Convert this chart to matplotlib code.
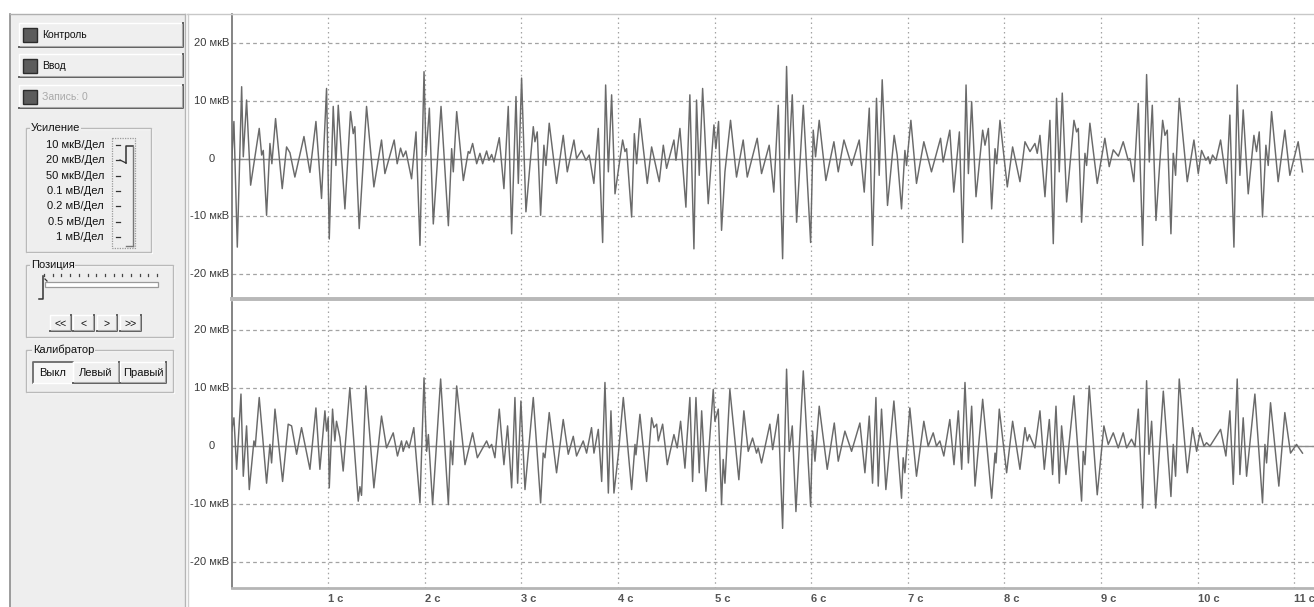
import matplotlib
matplotlib.use("Agg")
import matplotlib.pyplot as plt
from matplotlib.patches import Rectangle

# ---------------- data ----------------
top_t = [0.000, 0.024, 0.059, 0.104, 0.121, 0.155, 0.197, 0.286, 0.311, 0.328, 0.362, 0.397, 0.417, 0.455,
         0.524, 0.569, 0.604, 0.655, 0.749, 0.811, 0.873, 0.931, 0.983, 1.011, 1.052, 1.080, 1.104, 1.173,
         1.231, 1.259, 1.276, 1.321, 1.397, 1.473, 1.552, 1.587, 1.683, 1.714, 1.749, 1.776, 1.804, 1.863,
         1.909, 1.950, 1.992, 2.013, 2.047, 2.088, 2.168, 2.244, 2.278, 2.295, 2.330, 2.399, 2.450, 2.466,
         2.495, 2.537, 2.571, 2.599, 2.640, 2.664, 2.692, 2.716, 2.771, 2.819, 2.864, 2.899, 2.944, 2.968,
         3.002, 3.047, 3.123, 3.140, 3.164, 3.199, 3.233, 3.254, 3.288, 3.364, 3.433, 3.475, 3.544, 3.571,
         3.623, 3.668, 3.702, 3.750, 3.796, 3.841, 3.872, 3.900, 3.934, 3.969, 4.048, 4.072, 4.089, 4.141,
         4.169, 4.193, 4.227, 4.303, 4.348, 4.427, 4.469, 4.503, 4.579, 4.600, 4.641, 4.703, 4.744, 4.786,
         4.813, 4.841, 4.876, 4.934, 4.993, 5.013, 5.041, 5.072, 5.107, 5.165, 5.227, 5.296, 5.338, 5.441,
         5.486, 5.565, 5.613, 5.659, 5.704, 5.745, 5.770, 5.804, 5.849, 5.918, 5.994, 6.021, 6.045, 6.083,
         6.152, 6.235, 6.280, 6.339, 6.418, 6.497, 6.549, 6.601, 6.635, 6.676, 6.704, 6.735, 6.790, 6.859,
         6.890, 6.935, 6.970, 6.987, 7.032, 7.090, 7.166, 7.245, 7.339, 7.366, 7.435, 7.476, 7.534, 7.568,
         7.603, 7.627, 7.661, 7.706, 7.775, 7.799, 7.834, 7.868, 7.903, 7.920, 7.954, 8.030, 8.085, 8.161,
         8.213, 8.265, 8.316, 8.340, 8.368, 8.420, 8.471, 8.506, 8.540, 8.568, 8.599, 8.644, 8.720, 8.747,
         8.765, 8.799, 8.834, 8.851, 8.885, 8.961, 9.040, 9.085, 9.127, 9.180, 9.230, 9.282, 9.300, 9.340,
         9.386, 9.431, 9.472, 9.500, 9.531, 9.569, 9.638, 9.662, 9.686, 9.724, 9.748, 9.772, 9.810, 9.893,
         9.962, 10.007, 10.041, 10.086, 10.110, 10.128, 10.155, 10.190, 10.238, 10.300, 10.334, 10.376,
         10.410, 10.438, 10.472, 10.524, 10.583, 10.610, 10.638, 10.672, 10.707, 10.731, 10.766, 10.834,
         10.903, 10.955, 11.041, 11.086]
top_uv = [-0.6, 6.4, -15.3, 12.4, 0.3, 10.1, -4.6, 5.2, 0.6, 1.4, -9.8, 2.6, -0.9, 6.9,
          -5.2, 2.0, 1.0, -3.2, 3.8, -2.4, 6.4, -6.9, 12.1, -13.9, 9.0, -1.2, 9.2, -8.7,
          8.1, 4.3, 5.5, -12.1, 9.0, -4.9, 3.2, -2.6, 3.2, -0.9, 1.8, 0.3, 1.3, -3.5,
          4.6, -15.0, 15.0, 0.6, 8.7, -11.3, 9.0, -11.6, 1.7, -2.3, 8.1, -3.8, 1.2, 0.9,
          2.6, -0.9, 0.9, -0.9, 1.3, -0.3, 0.7, -0.6, 3.6, -5.2, 9.0, -13.0, 10.7, -4.3,
          13.9, -9.2, 5.5, 2.9, 4.6, -9.8, 2.3, -1.2, 6.1, -4.3, 4.0, -2.3, 3.2, 0.0,
          1.4, -0.3, 0.6, -4.3, 5.2, -14.5, 12.7, -2.3, 11.0, -6.1, 3.2, 1.2, 1.7, -10.1,
          4.3, -0.9, 6.9, -4.3, 2.0, -4.0, 2.3, -1.7, 3.2, -0.3, 5.2, -8.4, 11.0, -15.6,
          10.1, -2.9, 12.1, -7.8, 5.8, 1.7, 6.4, -12.4, -2.3, 6.6, -3.2, 3.2, -3.2, 3.5,
          -2.6, 2.3, -5.8, 9.2, -17.3, 15.9, 0.0, 11.0, -11.0, 9.2, -14.5, 4.9, 0.3, 6.6,
          -3.8, 2.9, -2.3, 3.2, -1.2, 3.2, -5.8, 8.7, -15.0, 10.4, -2.9, 13.6, -8.1, 4.0,
          0.6, -8.7, 1.4, -1.2, 6.6, -4.3, 2.9, -2.3, 3.5, -0.6, 4.9, -5.8, 4.6, -14.5,
          12.7, -2.6, 9.8, -6.6, 4.9, 2.3, 5.2, -8.7, 1.7, -0.9, 6.6, -4.9, 2.0, -4.0,
          2.9, 1.2, 2.6, 0.9, 4.0, -6.6, 6.6, -14.7, 10.4, -2.3, 11.3, -7.5, 6.6, 4.6,
          5.2, -11.0, 0.9, -1.2, 6.1, -4.3, 3.5, -1.4, 1.5, 0.4, 2.9, -0.3, 0.0, -4.0,
          9.5, -15.0, 14.5, -0.6, 9.2, -10.7, 6.6, 4.0, 4.9, -13.0, 0.9, -2.9, 10.4, -4.0,
          3.2, -2.6, 1.4, -0.3, 0.3, -0.9, 0.6, -0.3, 3.2, -4.3, 7.5, -15.3,
          12.7, -2.9, 8.4, -6.1, 4.0, 1.2, 4.6, -10.1, 2.3, -1.2, 8.1, -4.0,
          4.9, -2.9, 2.9, -2.3]

bot_t = [0.000, 0.024, 0.052, 0.097, 0.121, 0.155, 0.183, 0.231, 0.245, 0.286, 0.321, 0.362, 0.397, 0.414,
         0.449, 0.528, 0.586, 0.621, 0.673, 0.724, 0.811, 0.873, 0.914, 0.966, 0.983, 1.000, 1.011, 1.045,
         1.069, 1.086, 1.121, 1.155, 1.224, 1.311, 1.328, 1.345, 1.390, 1.473, 1.552, 1.604, 1.673, 1.717,
         1.759, 1.776, 1.811, 1.838, 1.886, 1.950, 1.992, 2.019, 2.037, 2.081, 2.164, 2.244, 2.268, 2.288,
         2.330, 2.416, 2.495, 2.544, 2.640, 2.668, 2.692, 2.726, 2.771, 2.819, 2.857, 2.899, 2.933, 2.961,
         2.995, 3.037, 3.123, 3.199, 3.226, 3.244, 3.288, 3.364, 3.433, 3.485, 3.537, 3.571, 3.640, 3.675,
         3.726, 3.751, 3.796, 3.831, 3.865, 3.900, 3.927, 3.958, 4.003, 4.055, 4.141, 4.176, 4.186, 4.227,
         4.296, 4.348, 4.372, 4.400, 4.417, 4.462, 4.510, 4.579, 4.613, 4.648, 4.693, 4.744, 4.772, 4.807,
         4.841, 4.866, 4.910, 4.986, 5.003, 5.038, 5.072, 5.089, 5.107, 5.158, 5.251, 5.303, 5.348, 5.393,
         5.434, 5.451, 5.486, 5.572, 5.601, 5.659, 5.704, 5.745, 5.773, 5.804, 5.842, 5.918, 5.994, 6.014,
         6.039, 6.083, 6.166, 6.239, 6.280, 6.349, 6.418, 6.504, 6.556, 6.601, 6.635, 6.670, 6.694, 6.728,
         6.773, 6.856, 6.935, 6.952, 6.970, 7.021, 7.090, 7.166, 7.211, 7.263, 7.297, 7.332, 7.373, 7.435,
         7.478, 7.523, 7.558, 7.592, 7.627, 7.661, 7.696, 7.775, 7.868, 7.903, 7.913, 7.947, 8.023, 8.085,
         8.161, 8.213, 8.237, 8.258, 8.316, 8.368, 8.413, 8.465, 8.499, 8.534, 8.568, 8.592, 8.637, 8.720,
         8.799, 8.816, 8.834, 8.878, 8.961, 9.030, 9.075, 9.127, 9.178, 9.230, 9.265, 9.316, 9.352, 9.386,
         9.431, 9.472, 9.497, 9.524, 9.566, 9.645, 9.724, 9.748, 9.772, 9.810, 9.893, 9.948, 9.990, 10.024,
         10.066, 10.093, 10.128, 10.238, 10.293, 10.334, 10.369, 10.410, 10.438, 10.472, 10.507, 10.593,
         10.672, 10.697, 10.714, 10.755, 10.841, 10.903, 10.962, 11.024, 11.086]
bot_uv = [2.6, 4.9, -4.0, 9.0, -5.2, 3.5, -7.5, 0.9, 0.0, 8.4, 1.7, -6.4, 0.3, -2.9,
          6.4, -6.1, 3.8, 3.5, -1.4, 3.2, -4.0, 6.6, -4.0, 6.1, 2.6, 4.9, -7.2, 6.4,
          0.9, 4.3, 1.5, -4.3, 10.1, -9.5, -7.0, -8.5, 10.4, -7.2, 5.2, -0.3, 2.3, -1.7,
          0.9, -0.9, 0.9, -0.3, 3.2, -9.8, 11.8, -0.9, 2.0, -10.1, 11.6, -10.1, 0.9, -3.2,
          10.4, -3.2, 2.3, -2.0, 0.9, -0.3, 0.3, -2.0, 6.4, -3.2, 3.5, -7.2, 8.4, -6.4,
          7.8, -7.5, 8.4, -9.8, -1.2, -2.0, 5.8, -4.6, 4.6, -1.4, 1.7, -1.7, 0.9, -1.2,
          3.2, -1.2, 2.9, -6.1, 11.0, -8.1, 6.1, -8.1, -1.5, 8.4, -7.5, 0.3, -1.5, 5.5,
          -6.1, 4.9, 3.2, 3.8, 0.9, 3.8, -3.2, 2.0, -0.3, 4.3, -3.8, 8.4, -6.1, 8.4,
          -4.6, 6.1, -7.8, 9.8, 4.3, 6.4, -10.1, -2.3, -6.4, 9.8, -5.8, 6.1, -0.9, 1.4,
          -1.2, -0.3, -2.9, 3.8, -0.6, 5.5, -14.2, 13.3, -0.9, 3.5, -11.3, 13.0, -10.4, 2.6,
          -2.6, 6.9, -4.0, 4.0, -2.6, 2.6, -0.9, 4.0, -4.6, 5.2, -6.4, 8.4, -6.9, 6.4,
          -7.5, 7.8, -9.0, -2.0, -4.6, 6.6, -5.2, 4.3, 0.0, 2.3, 0.0, 0.9, -1.7, 4.6,
          -3.2, 6.1, -4.0, 11.0, -2.9, 6.9, -6.9, 8.1, -9.0, -1.2, -2.9, 6.4, -4.6, 4.3,
          -4.0, 3.2, 0.9, 2.0, -0.3, 6.1, -4.0, 4.6, -4.9, 6.9, -6.4, 3.5, -4.9, 8.7,
          -9.5, -0.9, -3.2, 10.4, -8.4, 3.5, 0.3, 2.3, -0.3, 2.3, -0.3, 1.2, -0.1, 6.4,
          -10.7, 11.3, -1.4, 4.3, -10.7, 9.5, -8.7, 0.3, -5.2, 11.6, -4.6, 3.2, -0.9, 2.3,
          0.0, 0.6, 0.0, 2.9, -1.7, 6.1, -6.6, 11.6, -4.9, 4.9, -5.2, 9.0,
          -9.8, 0.3, -2.9, 7.5, -6.9, 5.8, -1.2, 0.3, -1.2]

seconds = [1, 2, 3, 4, 5, 6, 7, 8, 9, 10, 11]
second_labels = ["1 с", "2 с", "3 с", "4 с", "5 с", "6 с", "7 с", "8 с", "9 с", "10 с", "11 с"]
uv_ticks = [-20, -10, 0, 10, 20]
uv_labels = ["-20 мкВ", "-10 мкВ", "0", "10 мкВ", "20 мкВ"]
gain_labels = ["10 мкВ/Дел", "20 мкВ/Дел", "50 мкВ/Дел", "0.1 мВ/Дел",
               "0.2 мВ/Дел", "0.5 мВ/Дел", "1 мВ/Дел"]
calib_labels = ["Выкл", "Левый", "Правый"]
nav_labels = ["<<", "<", ">", ">>"]

# ---------------- figure ----------------
W, H = 1314, 607
fig = plt.figure(figsize=(W / 100, H / 100), dpi=100, facecolor="white")
FONT = "Liberation Sans"

def fx(px):
    return px / W

def fy(py):
    return 1 - py / H

trace_col = "#6a6a6a"
grid_col = "#a3a3a3"

def make_trace_axes(y_top, y_bot, t, v, ylim, show_x):
    ax = fig.add_axes([fx(231.6), fy(y_bot), fx(W - 231.6), (y_bot - y_top) / H])
    ax.set_facecolor("white")
    ax.set_xlim(0, (W - 231.6) / 96.6)
    ax.set_ylim(*ylim)
    ax.set_xticks(seconds)
    ax.set_yticks(uv_ticks)
    ax.xaxis.grid(True, color=grid_col, lw=0.9, ls=(0, (1.2, 2.6)))
    ax.yaxis.grid(True, color=grid_col, lw=0.9, ls=(0, (3.0, 2.5)))
    ax.set_axisbelow(True)
    ax.axhline(0, color="#8c8c8c", lw=1.0, zorder=1.5)
    ax.plot(t, v, color=trace_col, lw=1.05, zorder=3)
    ax.tick_params(length=0)
    ax.set_yticklabels([])
    if show_x:
        ax.set_xticklabels(second_labels, fontsize=8, fontweight="bold",
                           color="#555555", family=FONT)
        for lab in ax.get_xticklabels():
            lab.set_horizontalalignment("left")
        ax.tick_params(axis="x", pad=4)
    else:
        ax.set_xticklabels([])
    for val, lab in zip(uv_ticks, uv_labels):
        if val == 0:
            ax.annotate(lab, xy=(0, val), xycoords=("axes fraction", "data"),
                        xytext=(-20, 0), textcoords="offset pixels",
                        ha="center", va="center", fontsize=8, color="#3a3a3a",
                        family=FONT, annotation_clip=False)
        else:
            ax.annotate(lab, xy=(0, val), xycoords=("axes fraction", "data"),
                        xytext=(-2, 0), textcoords="offset pixels",
                        ha="right", va="center", fontsize=8, color="#3a3a3a",
                        family=FONT, annotation_clip=False)
    ax.spines["right"].set_visible(False)
    ax.spines["left"].set_color("#707070")
    ax.spines["left"].set_linewidth(1.2)
    return ax

ax1 = make_trace_axes(14, 299, top_t, top_uv, (-24.26, 24.96), False)
ax1.spines["top"].set_color("#c8c8c8")
ax1.spines["top"].set_linewidth(1.0)
ax1.spines["bottom"].set_color("#b8b8b8")
ax1.spines["bottom"].set_linewidth(2.8)

ax2 = make_trace_axes(302, 588, bot_t, bot_uv, (-24.5, 24.9), True)
ax2.spines["top"].set_visible(False)
ax2.spines["bottom"].set_color("#b5b5b5")
ax2.spines["bottom"].set_linewidth(2.0)

# ---------------- left control panel (pixel overlay) ----------------
ui = fig.add_axes([0, 0, 1, 1], zorder=5)
ui.set_xlim(0, W)
ui.set_ylim(H, 0)
ui.axis("off")
ui.patch.set_alpha(0)

panel_bg = "#eeeeee"
ui.add_patch(Rectangle((10, 14), 175, H - 14, fc=panel_bg, ec="none"))
ui.plot([10, 10], [14, H], color="#8c8c8c", lw=1.2)
ui.plot([10, 185], [14, 14], color="#b0b0b0", lw=1.0)
ui.plot([185, 185], [14, H], color="#b5b5b5", lw=1.0)
ui.plot([187.5, 187.5], [14, H], color="#cfcfcf", lw=1.0)
ui.plot([187, 232], [14, 14], color="#c8c8c8", lw=1.0)

def button(x0, y0, x1, y1, text=None, fs=7, color="#111111", pressed=False,
           ha="center", tx=None):
    ui.add_patch(Rectangle((x0, y0), x1 - x0, y1 - y0,
                           fc="#f6f6f6" if pressed else "#efefef", ec="none"))
    if pressed:
        ui.plot([x0, x0, x1], [y1, y0, y0], color="#6a6a6a", lw=1.3)
        ui.plot([x0, x1, x1], [y1, y1, y0], color="#ffffff", lw=1.0)
    else:
        ui.plot([x0, x0, x1], [y1, y0, y0], color="#ffffff", lw=1.0)
        ui.plot([x0, x1, x1], [y1, y1, y0], color="#5e5e5e", lw=1.4)
        ui.plot([x0 + 1, x1 - 1, x1 - 1], [y1 - 1, y1 - 1, y0 + 1], color="#a8a8a8", lw=0.8)
    if text is not None:
        xx = (x0 + x1) / 2 if tx is None else tx
        ui.text(xx, (y0 + y1) / 2 + 0.5, text, ha=ha, va="center", fontsize=fs,
                color=color, family=FONT)

def led_button(y0, y1, text, color):
    button(19, y0, 183, y1, text, fs=7.5, color=color, ha="left", tx=42)
    ui.add_patch(Rectangle((23, (y0 + y1) / 2 - 7), 14, 14, fc="#5c5c5c", ec="#2c2c2c", lw=1.0))

led_button(23, 47, "Контроль", "#111111")
led_button(54, 77, "Ввод", "#111111")
led_button(85, 108, "Запись: 0", "#a9a9a9")

def group(x0, y0, x1, y1, title, tx):
    ui.add_patch(Rectangle((x0 + 1, y0 + 1), x1 - x0, y1 - y0, fc="none", ec="#ffffff", lw=0.9))
    ui.add_patch(Rectangle((x0, y0), x1 - x0, y1 - y0, fc="none", ec="#b9b9b9", lw=1.0))
    ui.text(tx, y0, title, ha="left", va="center", fontsize=8, color="#111111",
            family=FONT, bbox=dict(boxstyle="square,pad=0.05", fc=panel_bg, ec="none"))

# Усиление
group(26, 128, 151, 252, "Усиление", 31)
gain_y0, gain_dy = 145, 15.35
for i, lab in enumerate(gain_labels):
    yy = gain_y0 + i * gain_dy
    ui.text(104, yy, lab, ha="right", va="center", fontsize=8, color="#111111", family=FONT)
    ui.plot([116, 120], [yy, yy], color="#333333", lw=0.9)
ui.add_patch(Rectangle((112, 138), 23, 110, fc="none", ec="#9a9a9a", lw=0.9, ls=(0, (1, 1))))
ui.plot([133, 133], [147, 246], color="#777777", lw=1.0)
ui.plot([126, 133], [246, 246], color="#777777", lw=1.0)
ui.plot([126, 126, 133], [163, 146, 146], color="#333333", lw=1.1)
ui.plot([120, 124, 126], [160, 162, 163], color="#333333", lw=0.9)

# Позиция
group(26, 265, 173, 337, "Позиция", 31)
for k in range(14):
    xx = 44 + k * 8.7
    ui.plot([xx, xx], [274, 276], color="#444444", lw=0.9)
ui.add_patch(Rectangle((45, 282), 113, 5, fc="#ffffff", ec="#9a9a9a", lw=0.9))
ui.plot([43, 43, 39], [276, 299, 299], color="#333333", lw=1.1)
ui.plot([45, 47], [279, 281], color="#333333", lw=0.9)

nav_x = [(50, 71), (73, 94), (97, 117), (120, 141)]
for (a, b), lab in zip(nav_x, nav_labels):
    button(a, 315, b, 331, lab, fs=7.5)

# Калибратор
group(26, 350, 173, 392, "Калибратор", 33)
calib_x = [(33, 73), (73, 119), (120, 166)]
for (a, b), lab in zip(calib_x, calib_labels):
    button(a, 362, b, 383, lab, fs=8, pressed=(lab == "Выкл"))

fig.savefig("out.png", dpi=100, facecolor="white")
